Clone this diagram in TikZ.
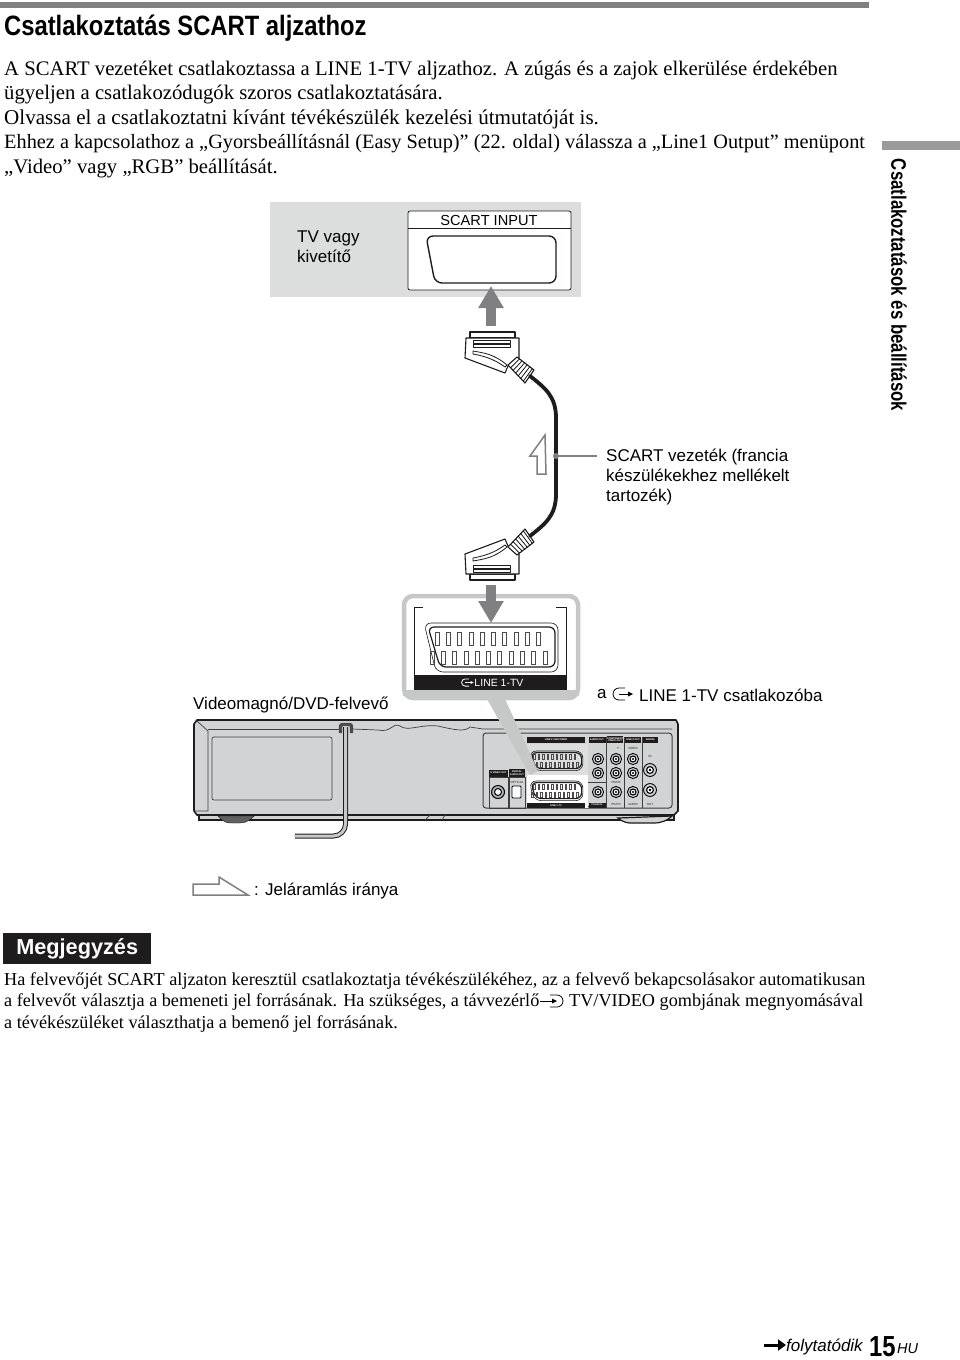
\documentclass[tikz,border=0pt]{standalone}
\usepackage{fontspec}
\setmainfont{Liberation Serif}
\setsansfont{Liberation Sans}
\usetikzlibrary{arrows.meta,calc}
\definecolor{panelgray}{HTML}{DCDEDE}
\definecolor{framegray}{HTML}{C6C8C8}
\definecolor{bodygray}{HTML}{D1D3D4}
\definecolor{arrowgray}{HTML}{808082}
\definecolor{inkblack}{HTML}{1E1C1C}
\newcommand{\px}[1]{\fontsize{#1}{#1}\selectfont}
\tikzset{
    pics/scartplug/.style={code={
        \draw[plugline, fill=white] (-22,-20) -- (-22,-26) -- (23,-26) -- (23,-20) -- cycle;
        \draw[plugline, fill=white] (-26,-20) -- (27,-20) -- (27,0) -- (25,0) -- (16,8) -- (13,15) -- (-27,0) -- cycle;
        \draw[plugline, line width=0.8pt, fill=white] (-19,-18) rectangle (18,-15);
        \draw[plugline, line width=0.8pt, fill=white] (-19,-14) rectangle (18,-11);
        \draw[plugline, line width=0.8pt, fill=white] (-19,-7) .. controls (-8,-5) and (2,-4) .. (15,7) -- (13,9) .. controls (2,1) and (-8,-2) .. (-19,-4) -- cycle;
        \draw[plugline, fill=white] (16,7) -- (25,-1) -- (42,12) -- (33,25) -- cycle;
        \foreach \hatch in {0.15,0.3,0.45,0.6,0.75,0.9}
            \draw[line width=0.7pt] ($(16,7)!\hatch!(33,25)$) -- ($(25,-1)!\hatch!(42,12)$);
        \coordinate (-cable) at (38,18);
    }},
    pics/scartsocket/.style={code={
        \draw[rounded corners=7pt, line width=0.6pt, draw=inkblack] (-67,-25) -- (67,-25) -- (67,24) -- (-55,24) -- cycle;
        \draw[rounded corners=6pt, line width=1.2pt, draw=inkblack] (-63,-21) -- (64,-21) -- (64,19) -- (-51,19) -- cycle;
        \foreach \pin in {0,...,9}
            \draw[line width=0.8pt, draw=inkblack!80] ({-56+\pin*11.3},-16) rectangle ++(4,13);
        \foreach \pin in {0,...,10}
            \draw[line width=0.8pt, draw=inkblack!80] ({-61+\pin*11.3},3) rectangle ++(4,13);
    }},
    pics/inputicon/.style={code={
        \draw[line width=0.8pt] (3,-6) -- (-3,-6) arc[start angle=-90, end angle=-270, radius=6] -- (3,6);
        \draw[line width=0.8pt] (-3,0) -- (7,0);
        \fill (6,-2.5) -- (11,0) -- (6,2.5) -- cycle;
    }},
    pics/remoteicon/.style={code={
        \draw[line width=0.8pt] (-1,-6) -- (6,-6) arc[start angle=-90, end angle=90, radius=6] -- (-1,6);
        \draw[line width=0.8pt] (-11,0) -- (3,0);
        \fill (1,-2.5) -- (6,0) -- (1,2.5) -- cycle;
    }},
    pics/rcajack/.style={code={
        \draw[line width=0.9pt, fill=bodygray] (0,0) circle[radius=5.6];
        \draw[line width=1.1pt, fill=white] (0,0) circle[radius=3];
        \fill (0,0) circle[radius=1.2];
    }}
}
\begin{document}
\begin{tikzpicture}[
    x=1pt, y=-1pt,
    plugline/.style={line width=1.1pt, draw=inkblack, line join=round},
    bodytext/.style={anchor=base west, inner sep=0pt},
    notetext/.style={anchor=base west, inner sep=0pt, font=\px{18.2}},
    labeltext/.style={anchor=north west, inner sep=0pt, align=left, font=\sffamily\fontsize{17}{20}\selectfont},
    tinylabel/.style={fill=inkblack, text=white, inner sep=0pt, font=\sffamily\bfseries\px{2.5}, align=center},
    tinytext/.style={inner sep=0pt, font=\sffamily\px{3}, text=inkblack},
    bigarrow/.style={-{Triangle[length=22pt, width=24pt]}, line width=10pt, draw=arrowgray},
    flowarrow/.style={draw=arrowgray, line width=1.5pt, fill=white, line join=miter},
    cable/.style={line width=3.8pt, draw=inkblack, line cap=round},
    leader/.style={draw=arrowgray, line width=1.3pt},
    device/.style={draw=inkblack, line width=1.6pt, fill=bodygray, line join=round},
    thinline/.style={draw=inkblack!85, line width=0.7pt}
]
\useasboundingbox (0,0) rectangle (960,1360);

% Page head
\fill[arrowgray] (0,2) rectangle (869,8);
\fill[arrowgray!80] (882,141) rectangle (960,150);
\node[anchor=base west, inner sep=0pt, xscale=0.85, transform shape, font=\sffamily\bfseries\px{28}] (title) at (4,35) {Csatlakoztatás SCART aljzathoz};
\node[anchor=north, inner sep=0pt, rotate=-90, xscale=0.8, transform shape, font=\sffamily\bfseries\px{21}] (sidetitle) at (907,285) {Csatlakoztatások és beállítások};

% Intro text
\node[bodytext, font=\px{20.7}] (introa) at (4,75) {A SCART vezetéket csatlakoztassa a LINE 1-TV aljzathoz. A zúgás és a zajok elkerülése érdekében};
\node[bodytext, font=\px{20.7}] (introb) at (4,99.5) {ügyeljen a csatlakozódugók szoros csatlakoztatására.};
\node[bodytext, font=\px{21.1}] (introc) at (4,124) {Olvassa el a csatlakoztatni kívánt tévékészülék kezelési útmutatóját is.};
\node[bodytext, font=\px{20.3}] (introd) at (4,148.5) {Ehhez a kapcsolathoz a „Gyorsbeállításnál (Easy Setup)” (22. oldal) válassza a „Line1 Output” menüpont};
\node[bodytext, font=\px{20.7}] (introe) at (4,173) {„Video” vagy „RGB” beállítását.};

% TV panel
\fill[panelgray] (270,202) rectangle (581,297);
\node[labeltext] (tvlabel) at (297,231) {TV vagy\\kivetítő};
\draw[fill=white, line width=0.8pt, draw=inkblack, rounded corners=2pt] (408,211) rectangle (571,290);
\draw[line width=0.8pt, draw=inkblack] (408,228) -- (571,228);
\node[inner sep=0pt, font=\sffamily\px{14.6}] (scartinput) at (489,220.5) {SCART INPUT};
\draw[line width=1.4pt, draw=inkblack, rounded corners=7pt] (426,236) -- (556,236) -- (556,283) -- (435,283) -- cycle;

% Plugs and cable
\coordinate (uptail) at (491,326);
\coordinate (uphead) at (491,286);
\coordinate (downtail) at (491,585);
\coordinate (downhead) at (491,623);
\pic (plugup) at (492,358) {scartplug};
\pic[yscale=-1] (plugdown) at (492,554) {scartplug};
\draw[cable] (plugup-cable) .. controls (545,388) and (556,396) .. (556,418) -- (556,494) .. controls (556,516) and (545,524) .. (plugdown-cable);
\draw[flowarrow] (545,435) -- (530,456) -- (537,456) -- (537,474) -- (546,474) -- cycle;
\node[circle, fill=arrowgray, inner sep=0pt, minimum size=6pt] (leaderdot) at (556,456) {};
\node[labeltext] (cablelabel) at (606,449) {SCART vezeték (francia\\készülékekhez mellékelt\\tartozék)};
\draw[leader, shorten >=9pt] (leaderdot) -- (cablelabel.west |- leaderdot);

% Recorder
\draw[device] (194,724) -- (197,720) -- (676,720) -- (678,724) -- (678,811) -- (674,815) -- (197,815) -- (194,811) -- cycle;
\draw[line width=1.4pt, draw=inkblack, fill=bodygray] (199,815) rectangle (674,820);
\draw[inkblack, fill=inkblack!70] (218,816) .. controls (224,823) and (228,823) .. (232,823) -- (240,823) .. controls (247,823) and (251,819) .. (254,816) -- cycle;
\draw[inkblack, fill=bodygray, line width=1.2pt] (618,818) .. controls (624,823) and (628,823) .. (632,823) -- (654,823) .. controls (662,823) and (668,820) .. (672,816) -- cycle;
\draw[thinline] (197,721) -- (208,731) -- (208,811) -- (194,811);
\draw[thinline] (208,729) -- (340,729);
\draw[thinline] (352,729) -- (378,730) .. controls (392,733) and (392,722) .. (400,726) .. controls (408,732) and (420,724) .. (438,726) .. controls (455,730) and (465,732) .. (470,727) -- (483,729) -- (672,729);
\draw[thinline, rounded corners=2pt] (212,737) rectangle (332,800);
\draw[thinline] (425,820) -- (430,815) (445,815) -- (442,820);

% Recorder cable
\draw[line width=3.4pt, draw=inkblack!80, rounded corners=2pt] (340.5,733) -- (340.5,724.5) -- (351.5,724.5) -- (351.5,733);
\draw[line width=5pt, draw=inkblack, rounded corners=12pt] (345.5,727) -- (345.5,836) -- (295,836);
\draw[line width=3pt, draw=framegray, rounded corners=12pt, line cap=round] (345.5,727) -- (345.5,836) -- (295.5,836);

% Recorder rear panel
\draw[thinline, line width=1pt, rounded corners=3pt] (483,733) rectangle (672,808);
\fill[white] (527,775) rectangle (588,808);
\fill[panelgray] (527,744) rectangle (588,775);
\foreach \xa in {606,624,642} \draw[thinline] (\xa,737) -- (\xa,808);
\draw[thinline] (489,777) rectangle (508,808);
\draw[thinline] (509,777) rectangle (525,808);
\draw[thinline] (588,806) -- (606,806) (588,782) -- (606,782);
\node[tinylabel, minimum width=58pt, minimum height=6pt] (lblthree) at (556,740) {LINE 3 / DECODER};
\node[tinylabel, minimum width=17pt, minimum height=6pt] (lblaudio) at (597,740) {AUDIO OUT};
\node[tinylabel, minimum width=16pt, minimum height=7pt] (lblcomp) at (615,739.5) {COMPONENT\\VIDEO OUT};
\node[tinylabel, minimum width=16pt, minimum height=6pt] (lbllinetwo) at (633,740) {LINE 2 OUT};
\node[tinylabel, minimum width=15pt, minimum height=6pt] (lblaerial) at (650.5,740) {AERIAL};
\node[tinylabel, minimum width=19pt, minimum height=7pt] (lblsvideo) at (498.5,773) {S VIDEO OUT};
\node[tinylabel, minimum width=16pt, minimum height=8pt] (lbldigital) at (517,773) {DIGITAL\\AUDIO OUT};
\node[tinylabel, minimum width=58pt, minimum height=5pt] (lblone) at (556,805.5) {LINE 1-TV};
\node[tinylabel, minimum width=17pt, minimum height=5pt] (lblcoax) at (597,805) {COAXIAL};
\node[tinytext] (txtvideo) at (633,748) {VIDEO};
\node[tinytext] (txtaudio) at (633,804) {AUDIO};
\node[tinytext] (txtpr) at (616,804) {PR/CR};
\node[tinytext] (txtpb) at (616,782) {PB/CB};
\node[tinytext] (txty) at (618,748) {Y};
\node[tinytext] (txtin) at (650,756) {IN};
\node[tinytext] (txtout) at (650,804) {OUT};
\node[tinytext] (txtoptical) at (517,782) {OPTICAL};
\begin{scope}[line width=0.5pt]
\pic[scale=0.4] (rearthree) at (556,761) {scartsocket};
\pic[scale=0.4] (rearone) at (556,791) {scartsocket};
\end{scope}
\foreach \jackx/\jacky in {598/759,598/773,598/792,616/759,616/773,616/792,633/759,633/773,633/792}
    \pic at (\jackx,\jacky) {rcajack};
\pic[scale=1.15] at (650,770) {rcajack};
\pic[scale=1.15] at (650,790) {rcajack};
\draw[line width=1pt, fill=arrowgray!60] (498,792) circle[radius=6.5];
\draw[line width=1pt, fill=white] (498,792) circle[radius=3.5];
\draw[line width=0.9pt, rounded corners=1pt, fill=white] (512,786) rectangle (521,798);

% Callout frame
\fill[framegray] (487,699) -- (505,699) -- (538,771) -- (530,775) -- cycle;
\draw[draw=framegray, line width=4.5pt, fill=white, rounded corners=9pt] (404,596) rectangle (578,698);
\fill[framegray] (403,690) rectangle (579,696);
\fill[inkblack] (414,675) rectangle (567,690);
\draw[line width=0.8pt, draw=inkblack] (422.5,607.5) -- (414.5,607.5) -- (414.5,675);
\draw[line width=0.8pt, draw=inkblack] (556,607.5) -- (566.5,607.5) -- (566.5,675);
\pic (socket) at (491,648) {scartsocket};
\pic[white, scale=0.6] (iconframe) at (467,682.5) {inputicon};
\node[inner sep=0pt, text=white, font=\sffamily\px{10.5}] (linelabel) at (499,682.5) {LINE 1-TV};
\draw[bigarrow] (uptail) -- (uphead);
\draw[bigarrow] (downtail) -- (downhead);

% Recorder labels
\node[labeltext] (recorderlabel) at (193,697) {Videomagnó/DVD-felvevő};
\node[labeltext] (sockprefix) at (597,689) {a};
\pic (iconsock) at (622,694) {inputicon};
\node[labeltext] (socklabel) at (639,689) {LINE 1-TV csatlakozóba};
\draw[flowarrow] (193,884) -- (219,884) -- (219,877) -- (248,895) -- (193,895) -- cycle;
\node[labeltext] (flowlabel) at (254,883) {: Jeláramlás iránya};

% Note
\node[anchor=north west, fill=inkblack, text=white, inner sep=0pt, minimum width=148pt, minimum height=31pt, font=\sffamily\bfseries\px{21.7}] (notetitle) at (3,933) {Megjegyzés};
\node[notetext] (notea) at (4,985) {Ha felvevőjét SCART aljzaton keresztül csatlakoztatja tévékészülékéhez, az a felvevő bekapcsolásakor automatikusan};
\node[notetext] (noteb) at (4,1006.5) {a felvevőt választja a bemeneti jel forrásának. Ha szükséges, a távvezérlő};
\pic (iconnote) at (551,1001) {remoteicon};
\node[notetext] (notec) at (569,1006.5) {TV/VIDEO gombjának megnyomásával};
\node[notetext] (noted) at (4,1028.5) {a tévékészüléket választhatja a bemenő jel forrásának.};

% Page foot
\coordinate (nexttail) at (764,1345);
\node[anchor=base west, inner sep=0pt, font=\sffamily\itshape\px{17}] (nextlabel) at (786,1351) {folytatódik};
\draw[-{Triangle[length=8pt, width=11pt]}, line width=3pt, draw=black] (nexttail) -- (nextlabel.west |- nexttail);
\node[anchor=base west, inner sep=0pt, xscale=0.82, transform shape, font=\sffamily\bfseries\px{29}] (pagenum) at (869,1356.5) {15};
\node[anchor=base west, inner sep=0pt, font=\sffamily\itshape\px{14.5}] (pagelang) at (897,1353) {HU};
\end{tikzpicture}
\end{document}
